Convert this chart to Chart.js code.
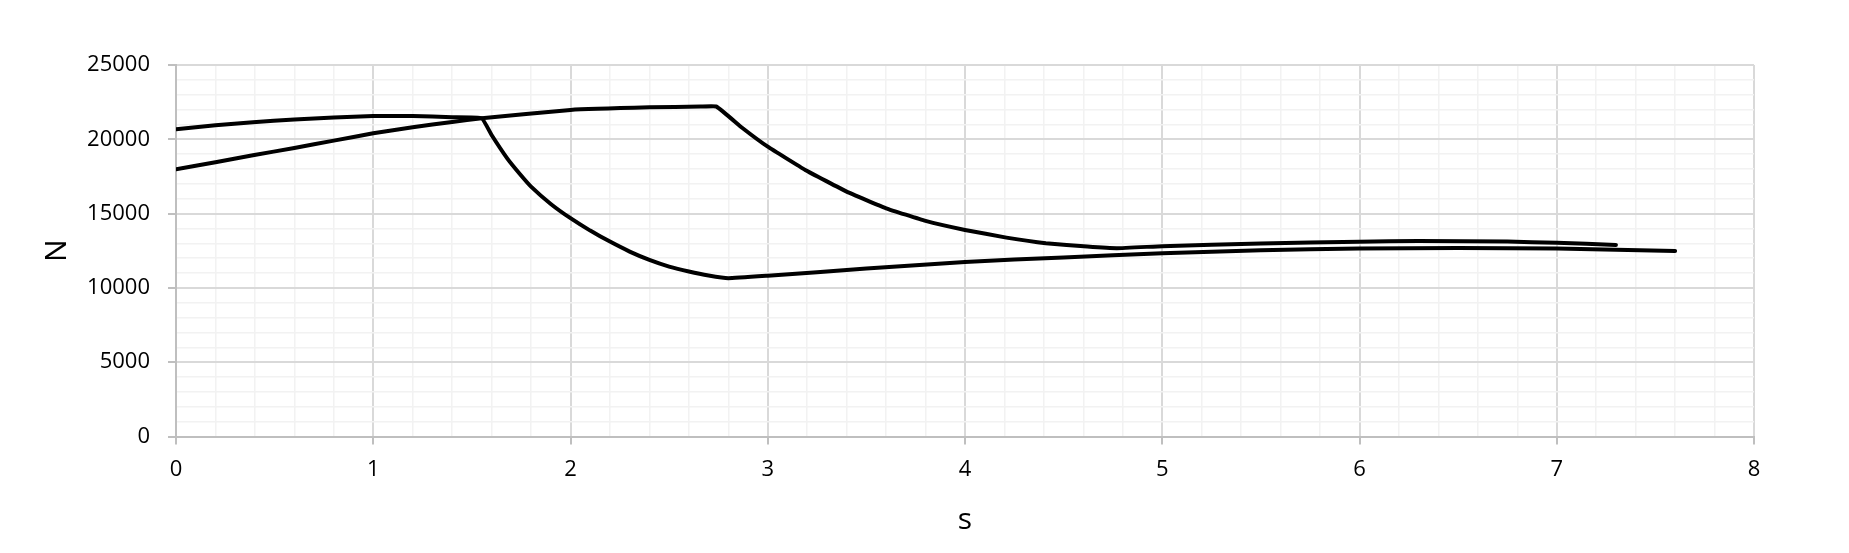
<!DOCTYPE html>
<html>
<head>
<meta charset="utf-8">
<script src="https://cdn.jsdelivr.net/npm/chart.js@4.4.1/dist/chart.umd.min.js"></script>
<style>
  html, body { margin: 0; padding: 0; background: #ffffff; }
  #wrap { width: 1849px; height: 553px; }
</style>
</head>
<body>
<div id="wrap"><canvas id="chart" width="1849" height="553"></canvas></div>
<script>
// values
var curve1X = [0, 0.2, 0.39, 0.6, 0.8, 1.0, 1.2, 1.4, 1.55, 1.6, 1.68, 1.74, 1.8, 1.9, 2.0, 2.1, 2.2, 2.3, 2.4, 2.5, 2.6, 2.7, 2.8, 3.0, 3.5, 4.0, 4.5, 5.0, 5.5, 6.0, 6.5, 7.0, 7.6];
var curve1N = [20675, 20945, 21140, 21340, 21460, 21570, 21570, 21480, 21415, 20290, 18700, 17715, 16815, 15650, 14690, 13855, 13115, 12445, 11885, 11435, 11100, 10830, 10650, 10820, 11300, 11750, 12050, 12330, 12540, 12645, 12690, 12645, 12490];

var curve2X = [0, 0.2, 0.39, 0.6, 0.8, 1.0, 1.2, 1.4, 1.55, 2.0, 2.4, 2.66, 2.74, 2.87, 3.0, 3.19, 3.4, 3.6, 3.8, 4.0, 4.21, 4.41, 4.62, 4.77, 5.0, 5.5, 6.0, 6.3, 6.75, 7.0, 7.3];
var curve2N = [17985, 18455, 18925, 19420, 19910, 20405, 20810, 21165, 21415, 21975, 22150, 22200, 22200, 20780, 19505, 17940, 16480, 15360, 14510, 13900, 13385, 13005, 12780, 12670, 12810, 12990, 13110, 13160, 13115, 13040, 12895];

var xTitle = 's';
var yTitle = 'N';

function toPoints(xs, ys) {
    var pts = [];
    for (var i = 0; i < xs.length; i++) {
        pts.push({ x: xs[i], y: ys[i] });
    }
    return pts;
}

function isMajor(v, step) {
    var r = v / step;
    return Math.abs(r - Math.round(r)) < 1e-6;
}

var fontFamily = "'Open Sans', 'Liberation Sans', sans-serif";

function lineSet(points) {
    return {
        data: points,
        showLine: true,
        borderColor: '#000000',
        borderWidth: 4,
        borderCapStyle: 'round',
        borderJoinStyle: 'round',
        pointRadius: 0,
        tension: 0.1
    };
}

var chartObj = new Chart(document.getElementById('chart'), {
    type: 'scatter',
    data: {
        datasets: [
            lineSet(toPoints(curve1X, curve1N)),
            lineSet(toPoints(curve2X, curve2N))
        ]
    },
    options: {
        responsive: false,
        animation: false,
        layout: { padding: { left: 0, right: 95, top: 65, bottom: 0 } },
        plugins: {
            legend: { display: false },
            tooltip: { enabled: false }
        },
        scales: {
            x: {
                type: 'linear',
                min: 0,
                max: 8,
                afterFit: function (scale) { scale.height = 116.5; },
                ticks: {
                    stepSize: 0.2,
                    autoSkip: false,
                    maxRotation: 0,
                    padding: 12,
                    color: '#000000',
                    font: { family: fontFamily, size: 22 },
                    callback: function (v) { return isMajor(v, 1) ? String(Math.round(v)) : ''; }
                },
                grid: {
                    color: function (ctx) { return isMajor(ctx.tick.value, 1) ? '#d9d9d9' : '#f2f2f2'; },
                    lineWidth: function (ctx) { return isMajor(ctx.tick.value, 1) ? 2 : 1.5; },
                    tickColor: function (ctx) { return isMajor(ctx.tick.value, 1) ? '#bfbfbf' : 'rgba(0,0,0,0)'; },
                    tickLength: 8,
                    tickWidth: 2
                },
                border: { color: '#bfbfbf', width: 2 },
                title: {
                    display: true,
                    text: xTitle,
                    color: '#000000',
                    font: { family: fontFamily, size: 30 },
                    padding: { top: 0, bottom: 15 }
                }
            },
            y: {
                type: 'linear',
                min: 0,
                max: 25000,
                afterFit: function (scale) { scale.width = 176; },
                ticks: {
                    stepSize: 1000,
                    autoSkip: false,
                    padding: 18,
                    color: '#000000',
                    font: { family: fontFamily, size: 22 },
                    callback: function (v) { return isMajor(v, 5000) ? String(v) : ''; }
                },
                grid: {
                    color: function (ctx) { return isMajor(ctx.tick.value, 5000) ? '#d9d9d9' : '#f2f2f2'; },
                    lineWidth: function (ctx) { return isMajor(ctx.tick.value, 5000) ? 2 : 1.5; },
                    tickColor: function (ctx) { return isMajor(ctx.tick.value, 5000) ? '#bfbfbf' : 'rgba(0,0,0,0)'; },
                    tickLength: 8,
                    tickWidth: 2
                },
                border: { color: '#bfbfbf', width: 2 },
                title: {
                    display: true,
                    text: yTitle,
                    color: '#000000',
                    font: { family: fontFamily, size: 30 },
                    padding: { top: 39, bottom: 0 }
                }
            }
        }
    }
});
</script>
</body>
</html>
